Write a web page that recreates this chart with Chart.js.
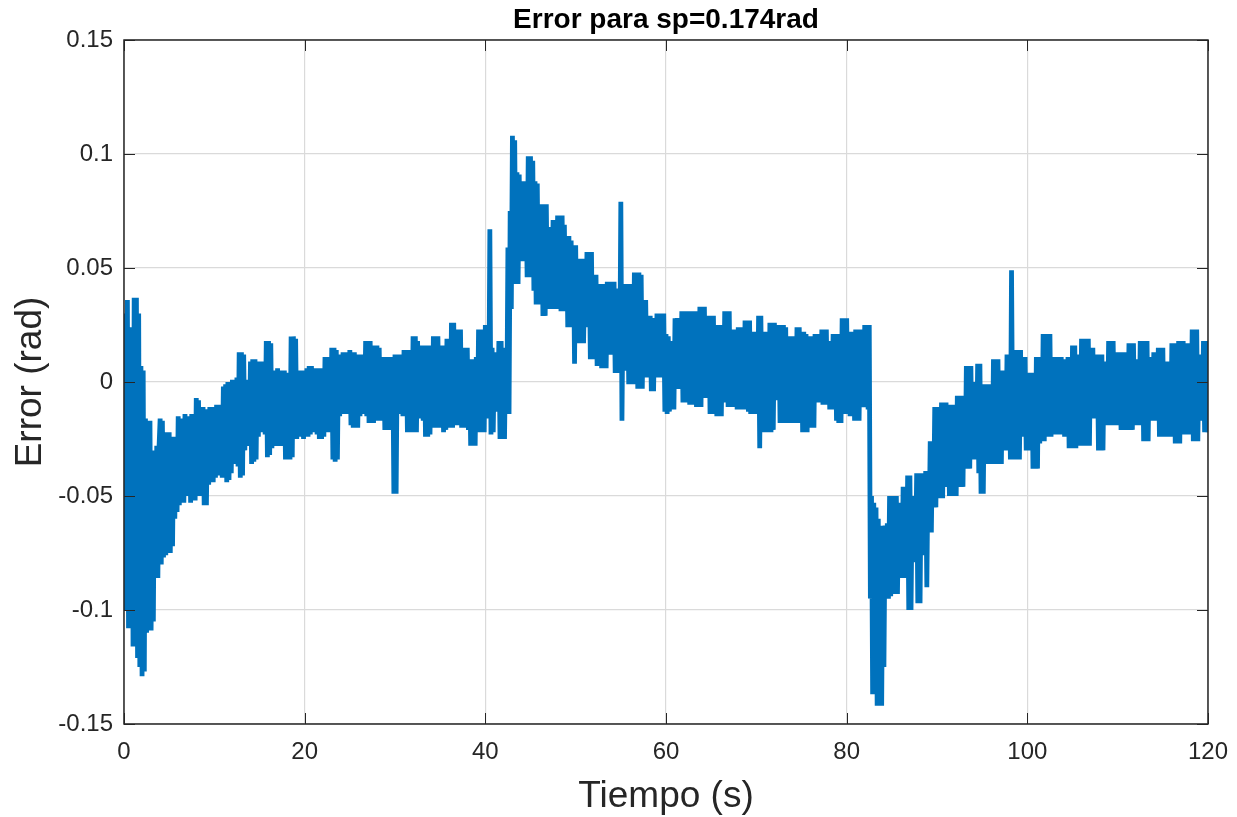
<!DOCTYPE html>
<html><head><meta charset="utf-8">
<script src="https://cdn.jsdelivr.net/npm/chart.js@4.4.0/dist/chart.umd.min.js"></script>
<style>html,body{margin:0;padding:0;background:#fff;}canvas{display:block;}</style>
</head><body>
<canvas id="c" width="1237" height="817"></canvas>
<script>
const sampleTime = 0.125; // s between samples
const err000_010 = [
-0.062,0.030,-0.100,0.036,-0.108,0.022,-0.105,0.024,
-0.116,0.037,-0.112,0.037,-0.121,0.030,-0.125,0.007,
-0.129,0.005,-0.127,-0.016,-0.110,-0.018,-0.108,-0.017,
-0.109,-0.055,-0.105,-0.030,-0.085,-0.028,-0.086,-0.029,
-0.016,-0.080,-0.017,-0.077,-0.022,-0.076,-0.026,-0.074,
-0.022,-0.075,-0.028,-0.072,-0.024,-0.060,-0.027,-0.057,
-0.015,-0.054,-0.016,-0.052,-0.016,-0.053,-0.014,-0.050,
-0.015,-0.050,-0.017,-0.053,-0.014,-0.048,-0.016,-0.052,
-0.007,-0.047,-0.008,-0.050,-0.012,-0.046,-0.011,-0.054,
-0.012,-0.054,-0.013,-0.045,-0.011,-0.043,-0.012,-0.044];
const err010_020 = [
-0.011,-0.042,-0.010,-0.040,-0.012,-0.041,-0.010,-0.042,
-0.002,-0.040,-0.001,-0.044,0.000,-0.043,-0.001,-0.040,
0.001,-0.036,0.000,-0.035,0.002,-0.037,0.013,-0.042,
0.013,-0.041,0.012,-0.030,0.001,-0.027,0.000,-0.028,
0.009,-0.036,0.010,-0.035,0.010,-0.034,0.009,-0.024,
0.008,-0.022,0.009,-0.022,0.007,-0.023,0.018,-0.033,
0.018,-0.032,0.017,-0.029,0.005,-0.028,0.004,-0.028,
0.006,-0.027,0.005,-0.028,0.004,-0.028,0.005,-0.034,
0.004,-0.034,0.003,-0.034,0.020,-0.033,0.020,-0.025,
0.019,-0.025,0.005,-0.024,0.005,-0.024,0.004,-0.025];
const err020_030 = [
0.005,-0.023,0.006,-0.024,0.007,-0.023,0.007,-0.022,
0.006,-0.022,0.006,-0.023,0.005,-0.025,0.006,-0.025,
0.006,-0.024,0.011,-0.022,0.011,-0.022,0.010,-0.022,
0.015,-0.034,0.015,-0.035,0.014,-0.034,0.012,-0.015,
0.012,-0.014,0.013,-0.014,0.013,-0.014,0.013,-0.014,
0.014,-0.019,0.013,-0.020,0.013,-0.020,0.012,-0.020,
0.012,-0.015,0.012,-0.014,0.012,-0.014,0.018,-0.015,
0.018,-0.018,0.018,-0.018,0.009,-0.018,0.016,-0.016,
0.016,-0.017,0.015,-0.017,0.011,-0.017,0.011,-0.021,
0.011,-0.021,0.010,-0.021,0.011,-0.020,0.011,-0.049];
const err030_040 = [
0.012,-0.049,0.012,-0.014,0.012,-0.014,0.011,-0.015,
0.014,-0.015,0.014,-0.022,0.014,-0.022,0.014,-0.022,
0.020,-0.022,0.020,-0.022,0.018,-0.016,0.016,-0.016,
0.016,-0.017,0.016,-0.024,0.016,-0.024,0.016,-0.023,
0.016,-0.020,0.020,-0.020,0.020,-0.020,0.020,-0.020,
0.016,-0.020,0.016,-0.022,0.016,-0.021,0.019,-0.020,
0.019,-0.019,0.026,-0.020,0.026,-0.019,0.023,-0.019,
0.023,-0.019,0.023,-0.020,0.008,-0.020,0.015,-0.020,
0.015,-0.021,0.010,-0.028,0.010,-0.028,0.010,-0.028,
0.011,-0.022,0.023,-0.022,0.023,-0.022,0.022,-0.022];
const err040_050 = [
0.025,-0.015,0.024,-0.016,0.067,-0.023,0.015,-0.022,
0.013,-0.012,0.012,-0.013,0.018,-0.025,0.018,-0.024,
0.014,-0.025,0.015,-0.014,0.059,-0.014,0.075,0.032,
0.108,0.048,0.106,0.043,0.092,0.043,0.091,0.053,
0.088,0.053,0.088,0.053,0.088,0.046,0.099,0.046,
0.099,0.046,0.097,0.040,0.088,0.034,0.087,0.034,
0.075,0.034,0.078,0.029,0.078,0.029,0.078,0.032,
0.068,0.032,0.068,0.032,0.071,0.032,0.071,0.032,
0.073,0.032,0.073,0.031,0.073,0.031,0.069,0.031,
0.064,0.024,0.064,0.024,0.062,0.024,0.060,0.008];
const err050_060 = [
0.060,0.017,0.054,0.017,0.054,0.017,0.054,0.017,
0.048,0.024,0.057,0.024,0.057,0.010,0.057,0.010,
0.047,0.010,0.047,0.007,0.043,0.007,0.043,0.006,
0.043,0.006,0.038,0.006,0.044,0.012,0.044,0.012,
0.044,0.012,0.044,0.004,0.041,0.004,0.041,0.004,
0.079,-0.017,0.040,0.005,0.043,0.008,0.043,-0.001,
0.043,-0.001,0.042,-0.001,0.048,0.008,0.048,-0.003,
0.048,-0.003,0.047,-0.003,0.036,0.002,0.036,0.002,
0.029,0.002,0.029,-0.004,0.028,-0.004,0.028,0.002,
0.030,0.002,0.030,0.002,0.030,0.002,0.030,-0.013];
const err060_070 = [
0.021,-0.014,0.020,-0.013,0.017,-0.012,0.018,-0.012,
0.028,-0.002,0.028,-0.003,0.028,-0.003,0.031,-0.009,
0.031,-0.009,0.031,-0.008,0.031,-0.010,0.027,-0.010,
0.031,-0.010,0.031,-0.011,0.031,-0.011,0.033,-0.011,
0.033,-0.007,0.033,-0.007,0.026,-0.007,0.029,-0.014,
0.029,-0.014,0.029,-0.014,0.025,-0.015,0.025,-0.015,
0.025,-0.015,0.025,-0.009,0.031,-0.009,0.031,-0.011,
0.031,-0.011,0.023,-0.011,0.023,-0.011,0.023,-0.012,
0.024,-0.012,0.024,-0.012,0.024,-0.012,0.027,-0.012,
0.027,-0.013,0.027,-0.014,0.022,-0.014,0.022,-0.014];
const err070_080 = [
0.022,-0.014,0.029,-0.029,0.029,-0.015,0.022,-0.022,
0.022,-0.022,0.022,-0.022,0.026,-0.022,0.026,-0.021,
0.026,-0.008,0.016,-0.008,0.025,-0.018,0.025,-0.018,
0.025,-0.018,0.024,-0.018,0.020,-0.018,0.020,-0.018,
0.020,-0.018,0.011,-0.018,0.024,-0.018,0.024,-0.018,
0.022,-0.022,0.022,-0.022,0.021,-0.022,0.020,-0.020,
0.020,-0.020,0.020,-0.020,0.021,-0.009,0.021,-0.009,
0.021,-0.009,0.023,-0.010,0.023,-0.010,0.023,-0.010,
0.018,-0.012,0.018,-0.012,0.021,-0.012,0.021,-0.017,
0.021,-0.018,0.021,-0.018,0.028,-0.014,0.028,-0.014];
const err080_090 = [
0.028,-0.014,0.021,-0.015,0.022,-0.015,0.022,-0.017,
0.023,-0.017,0.023,-0.017,0.023,-0.011,0.015,-0.011,
0.025,-0.011,0.025,-0.012,0.025,-0.095,-0.050,-0.137,
-0.053,-0.137,-0.055,-0.142,-0.060,-0.142,-0.063,-0.142,
-0.070,-0.125,-0.063,-0.095,-0.062,-0.095,-0.050,-0.094,
-0.050,-0.093,-0.050,-0.093,-0.050,-0.093,-0.053,-0.086,
-0.053,-0.086,-0.046,-0.086,-0.046,-0.086,-0.041,-0.100,
-0.041,-0.100,-0.050,-0.079,-0.050,-0.079,-0.040,-0.097,
-0.040,-0.097,-0.040,-0.075,-0.043,-0.076,-0.039,-0.090,
-0.039,-0.066,-0.026,-0.066,-0.026,-0.055,-0.011,-0.055];
const err090_100 = [
-0.011,-0.051,-0.019,-0.051,-0.009,-0.051,-0.009,-0.046,
-0.009,-0.046,-0.019,-0.050,-0.010,-0.050,-0.010,-0.050,
-0.016,-0.050,-0.006,-0.046,-0.006,-0.046,-0.006,-0.046,
-0.006,-0.038,0.007,-0.038,0.007,-0.038,0.007,-0.034,
0.000,-0.034,0.000,-0.034,0.008,-0.040,0.008,-0.049,
-0.001,-0.049,-0.001,-0.036,-0.001,-0.031,-0.001,-0.036,
-0.001,-0.036,0.010,-0.036,0.010,-0.036,0.010,-0.036,
0.005,-0.036,0.005,-0.030,0.005,-0.030,0.012,-0.030,
0.012,-0.034,0.049,-0.025,0.014,-0.034,0.014,-0.034,
0.014,-0.034,0.014,-0.024,0.011,-0.024,0.011,-0.030];
const err100_110 = [
0.004,-0.030,0.004,-0.029,0.004,-0.038,0.003,-0.038,
0.011,-0.038,0.011,-0.027,0.011,-0.026,0.021,-0.026,
0.021,-0.024,0.021,-0.024,0.021,-0.024,0.007,-0.023,
0.011,-0.023,0.011,-0.023,0.011,-0.023,0.011,-0.023,
0.007,-0.024,0.010,-0.024,0.011,-0.029,0.011,-0.029,
0.016,-0.029,0.016,-0.029,0.012,-0.017,0.012,-0.028,
0.019,-0.028,0.019,-0.028,0.019,-0.028,0.019,-0.028,
0.015,-0.016,0.015,-0.016,0.012,-0.016,0.012,-0.030,
0.012,-0.030,0.012,-0.030,0.009,-0.019,0.009,-0.019,
0.018,-0.019,0.018,-0.019,0.018,-0.019,0.013,-0.019];
const err110_120 = [
0.013,-0.019,0.013,-0.021,0.013,-0.021,0.013,-0.021,
0.013,-0.021,0.017,-0.021,0.017,-0.021,0.017,-0.019,
0.010,-0.019,0.010,-0.019,0.018,-0.019,0.018,-0.026,
0.018,-0.026,0.018,-0.026,0.011,-0.017,0.011,-0.017,
0.013,-0.017,0.013,-0.017,0.015,-0.024,0.015,-0.024,
0.015,-0.024,0.009,-0.024,0.009,-0.024,0.009,-0.024,
0.017,-0.024,0.017,-0.027,0.017,-0.027,0.018,-0.027,
0.018,-0.023,0.018,-0.023,0.017,-0.023,0.017,-0.023,
0.017,-0.023,0.023,-0.026,0.023,-0.026,0.023,-0.026,
0.012,-0.017,0.012,-0.017,0.018,-0.022,0.018,-0.022,
-0.020];

const xTicks = [0, 20, 40, 60, 80, 100, 120];
const yTicks = [-0.15, -0.1, -0.05, 0, 0.05, 0.1, 0.15];
const yTickLabels = ['-0.15', '-0.1', '-0.05', '0', '0.05', '0.1', '0.15'];
const chartTitle = 'Error para sp=0.174rad';
const xLabel = 'Tiempo (s)';
const yLabel = 'Error (rad)';

const errorValues = [].concat(err000_010, err010_020, err020_030, err030_040, err040_050,
  err050_060, err060_070, err070_080, err080_090, err090_100, err100_110, err110_120);
const points = errorValues.map((v, i) => ({ x: i * sampleTime, y: v }));

Chart.defaults.font.family = '"Liberation Sans", Arial, Helvetica, sans-serif';
Chart.defaults.color = '#262626';

const axisColor = '#262626';
const boxPlugin = {
  id: 'matlabBox',
  afterDatasetsDraw(chart) {
    const { ctx, chartArea: a, scales: { x, y } } = chart;
    const L = 11;
    ctx.save();
    ctx.strokeStyle = axisColor;
    ctx.lineWidth = 1;
    ctx.beginPath();
    xTicks.forEach(v => {
      const px = Math.round(x.getPixelForValue(v)) + 0.5;
      ctx.moveTo(px, a.bottom); ctx.lineTo(px, a.bottom - L);
      ctx.moveTo(px, a.top); ctx.lineTo(px, a.top + L);
    });
    yTicks.forEach(v => {
      const py = Math.round(y.getPixelForValue(v)) + 0.5;
      ctx.moveTo(a.left, py); ctx.lineTo(a.left + L, py);
      ctx.moveTo(a.right, py); ctx.lineTo(a.right - L, py);
    });
    ctx.stroke();
    ctx.lineWidth = 1.5;
    ctx.strokeRect(a.left, a.top, a.right - a.left, a.bottom - a.top);
    ctx.restore();
  }
};

new Chart(document.getElementById('c'), {
  type: 'line',
  data: {
    datasets: [{
      data: points,
      borderColor: '#0072BD',
      borderWidth: 4.8,
      borderJoinStyle: 'bevel',
      pointRadius: 0,
      tension: 0,
      fill: false,
      clip: 0
    }]
  },
  options: {
    responsive: false,
    animation: false,
    devicePixelRatio: 1,
    parsing: false,
    normalized: true,
    layout: { padding: { left: 0, right: 29, top: 0, bottom: 0 } },
    plugins: {
      legend: { display: false },
      tooltip: { enabled: false },
      title: {
        display: true,
        fullSize: false,
        text: chartTitle,
        color: '#000',
        font: { size: 28, weight: 'bold' },
        padding: { top: 3, bottom: 3.4 }
      }
    },
    scales: {
      x: {
        type: 'linear',
        min: 0, max: 120,
        afterBuildTicks: s => { s.ticks = xTicks.map(v => ({ value: v })); },
        afterFit: s => { s.height = 93; s.paddingRight = 0; s.paddingLeft = 0; },
        ticks: { padding: 14, font: { size: 24 }, color: axisColor, maxRotation: 0, autoSkip: false,
          callback: v => String(v) },
        grid: { color: '#dadada', lineWidth: 1.2, drawTicks: false },
        border: { display: false },
        title: { display: true, text: xLabel, color: axisColor, font: { size: 37, lineHeight: 1 }, padding: { top: 0, bottom: 2 } }
      },
      y: {
        type: 'linear',
        min: -0.15, max: 0.15,
        afterBuildTicks: s => { s.ticks = yTicks.map(v => ({ value: v })); },
        afterFit: s => { s.width = 124; },
        ticks: { padding: 11, font: { size: 24 }, color: axisColor, autoSkip: false,
          callback: (v, i) => yTickLabels[i] },
        grid: { color: '#dadada', lineWidth: 1.2, drawTicks: false },
        border: { display: false },
        title: { display: true, text: yLabel, color: axisColor, font: { size: 37, lineHeight: 1 }, padding: { top: 12, bottom: 0 } }
      }
    }
  },
  plugins: [boxPlugin]
});
</script>
</body></html>
